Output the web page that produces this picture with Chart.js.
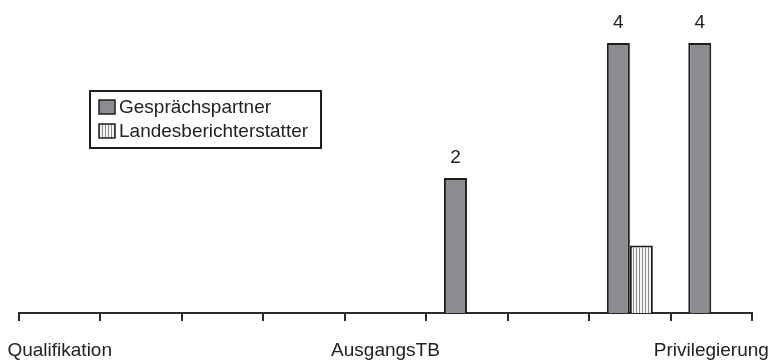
<!DOCTYPE html>
<html>
<head>
<meta charset="utf-8">
<script src="https://cdn.jsdelivr.net/npm/chart.js@4/dist/chart.umd.min.js"></script>
<style>
  html, body { margin: 0; padding: 0; background: #fff; }
  #wrap { width: 770px; height: 363px; position: relative; }
</style>
</head>
<body>
<div id="wrap"><canvas id="c" width="770" height="363"></canvas></div>
<script>
// Categories along the x axis (only every fourth one is labelled)
const categories = ['Qualifikation', '', '', '', 'AusgangsTB', '', '', '', 'Privilegierung'];
// Number of mentions per category
const gespraechspartner = [0, 0, 0, 0, 0, 2, 0, 4, 4];
const landesberichterstatter = [0, 0, 0, 0, 0, 0, 0, 1, 0];
const seriesNames = ['Gesprächspartner', 'Landesberichterstatter'];

const FONT = "'Liberation Sans', Arial, sans-serif";
const GRAY = '#8b8c8f';
const EDGE = '#1e1e1e';

// Vertical-stripe fill for the second series
function stripePattern() {
  const p = document.createElement('canvas');
  p.width = 3; p.height = 4;
  const g = p.getContext('2d');
  g.fillStyle = '#f4f4f4';
  g.fillRect(0, 0, 3, 4);
  g.fillStyle = '#8a8a8a';
  g.fillRect(0, 0, 1, 4);
  return g.createPattern(p, 'repeat');
}
const stripes = stripePattern();

// Value labels above the first series' bars
const valueLabels = {
  id: 'valueLabels',
  afterDatasetsDraw(chart) {
    const ctx = chart.ctx;
    const meta = chart.getDatasetMeta(0);
    ctx.save();
    ctx.font = '19px ' + FONT;
    ctx.fillStyle = '#222';
    ctx.textAlign = 'center';
    ctx.textBaseline = 'alphabetic';
    meta.data.forEach((bar, i) => {
      const v = chart.data.datasets[0].data[i];
      if (!v) return;
      ctx.fillText(String(v), bar.x, bar.y - 15);
    });
    ctx.restore();
  }
};

// Boxed legend floating inside the plot
const boxLegend = {
  id: 'boxLegend',
  afterDraw(chart) {
    const ctx = chart.ctx;
    const x = 90, y = 91, w = 231, h = 57;
    ctx.save();
    ctx.fillStyle = '#fff';
    ctx.fillRect(x, y, w, h);
    ctx.lineWidth = 2;
    ctx.strokeStyle = EDGE;
    ctx.strokeRect(x, y, w, h);
    const fills = [GRAY, stripes];
    ctx.font = '19px ' + FONT;
    ctx.textBaseline = 'middle';
    ctx.textAlign = 'left';
    seriesNames.forEach((name, i) => {
      const cy = 107 + i * 24;
      ctx.fillStyle = fills[i];
      ctx.fillRect(99, cy - 7, 16, 14);
      ctx.lineWidth = 1.5;
      ctx.strokeStyle = EDGE;
      ctx.strokeRect(99, cy - 7, 16, 14);
      ctx.fillStyle = '#222';
      ctx.fillText(name, 119, cy + 1);
    });
    ctx.restore();
  }
};

const bw = c => (c.raw ? 2 : 0);

new Chart(document.getElementById('c'), {
  type: 'bar',
  data: {
    labels: categories,
    datasets: [
      { label: seriesNames[0], data: gespraechspartner, backgroundColor: GRAY,
        borderColor: EDGE, borderWidth: bw, borderSkipped: 'bottom' },
      { label: seriesNames[1], data: landesberichterstatter, backgroundColor: stripes,
        borderColor: EDGE, borderWidth: bw, borderSkipped: 'bottom' }
    ]
  },
  options: {
    responsive: false,
    animation: false,
    events: [],
    layout: { padding: { top: 43, left: 19, right: 18, bottom: 0 } },
    datasets: { bar: { categoryPercentage: 0.565, barPercentage: 1 } },
    plugins: { legend: { display: false }, tooltip: { enabled: false } },
    scales: {
      y: { display: false, min: 0, max: 4 },
      x: {
        offset: true,
        afterFit(s) { s.height = 50; s.paddingLeft = 0; s.paddingRight = 0; },
        border: { display: true, color: '#2a2a2a', width: 2 },
        grid: { display: true, offset: true, drawOnChartArea: false, drawTicks: true,
                tickLength: 8, color: '#2a2a2a', lineWidth: 2 },
        ticks: { autoSkip: false, maxRotation: 0, padding: 18, color: '#222',
                 font: { family: FONT, size: 19 } }
      }
    }
  },
  plugins: [valueLabels, boxLegend]
});
</script>
</body>
</html>
